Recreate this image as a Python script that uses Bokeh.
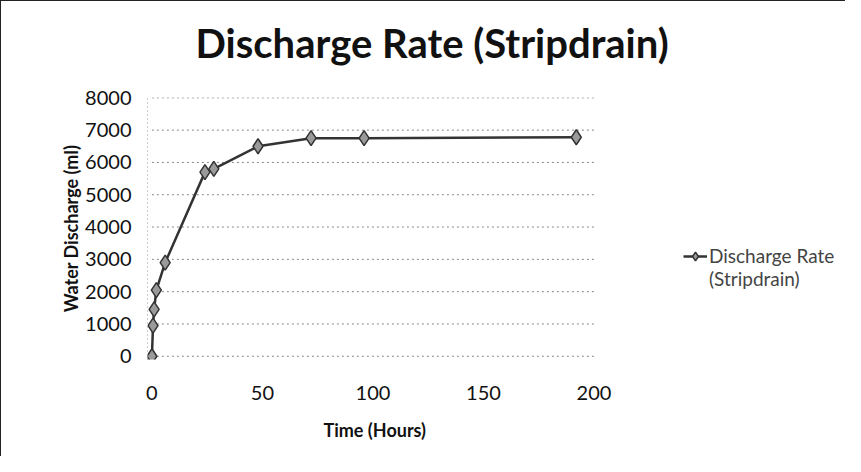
from bokeh.plotting import figure
from bokeh.models import Range1d, Legend, LegendItem, FixedTicker, Title
from bokeh.embed import file_html
from bokeh.resources import INLINE

hours = [0, 0.5, 1, 2, 6, 24, 28, 48, 72, 96, 192]
discharge = [0, 950, 1450, 2050, 2900, 5700, 5800, 6500, 6750, 6750, 6780]
x_ticks = [0, 50, 100, 150, 200]
y_ticks = [0, 1000, 2000, 3000, 4000, 5000, 6000, 7000, 8000]
series_label = ["Discharge Rate", "(Stripdrain)"]

FONT = "Lato"
X_MIN, X_MAX = x_ticks[0], x_ticks[-1]

# frame extends to the right so the legend (drawn inside the frame) is not clipped
p = figure(width=845, height=456, output_backend="svg", toolbar_location=None,
           x_range=Range1d(-2, 312), y_range=Range1d(-100, 8010),
           min_border_left=146, min_border_right=5, min_border_top=95,
           min_border_bottom=98)

p.title.text = "Discharge Rate (Stripdrain)"
p.title.text_font = FONT
p.title.text_font_size = "40px"
p.title.text_font_style = "bold"
p.title.align = "left"
p.title.offset = 48
p.title.standoff = 30
p.title.text_color = "#111111"

# small spacer between the title and the plot frame
p.add_layout(Title(text=" ", text_font_size="2px", standoff=12), "above")

p.background_fill_color = "white"
p.border_fill_color = "white"
p.outline_line_color = None
p.styles = {"border-left": "1px solid #222", "border-top": "1px solid #222"}

# horizontal gridlines over the 0-200 hour span only
p.segment(x0=[X_MIN] * len(y_ticks), x1=[X_MAX] * len(y_ticks), y0=y_ticks, y1=y_ticks,
          line_color="#888888", line_dash="2 3", line_width=1)

line = p.line(hours, discharge, line_color="#333333", line_width=2.5)
pts = p.scatter(hours, discharge, marker="diamond", size=15, fill_color="#9a9a9a",
                line_color="#333333", line_width=1.5)
blank = p.line([], [], line_alpha=0)

p.xaxis.ticker = FixedTicker(ticks=x_ticks)
p.yaxis.ticker = FixedTicker(ticks=y_ticks)
p.xgrid.grid_line_color = None
p.ygrid.grid_line_color = None

for ax in (p.xaxis, p.yaxis):
    ax.axis_line_color = None
    ax.major_tick_line_color = None
    ax.minor_tick_line_color = None
    ax.major_label_text_font = FONT
    ax.major_label_text_font_size = "20px"
    ax.major_label_text_color = "#111111"
    ax.axis_label_text_font = FONT
    ax.axis_label_text_font_size = "18px"
    ax.axis_label_text_font_style = "bold"
    ax.axis_label_text_color = "#111111"

p.yaxis.axis_line_color = "#999999"
p.yaxis.axis_line_dash = "1 3"

p.yaxis.axis_label = "Water Discharge (ml)"
p.xaxis.major_label_standoff = 20
p.yaxis.major_label_standoff = 10
p.yaxis.axis_label_standoff = 0

# x-axis title centred under the 0-200 span (frame is wider because of the legend)
xtitle = Title(text="Time (Hours)", align="left", offset=176, standoff=28,
               text_font=FONT, text_font_size="18px", text_font_style="bold",
               text_color="#111111")
p.add_layout(xtitle, "below")

legend = Legend(items=[LegendItem(label=series_label[0], renderers=[line, pts]),
                       LegendItem(label=series_label[1], renderers=[blank])],
                location=(536, 69), border_line_color=None, background_fill_alpha=0,
                label_text_font=FONT, label_text_font_size="19px", glyph_width=24,
                label_standoff=2, padding=0, spacing=0, label_height=22, glyph_height=22)
p.add_layout(legend, "center")

open("out.html", "w").write(file_html(p, INLINE))
